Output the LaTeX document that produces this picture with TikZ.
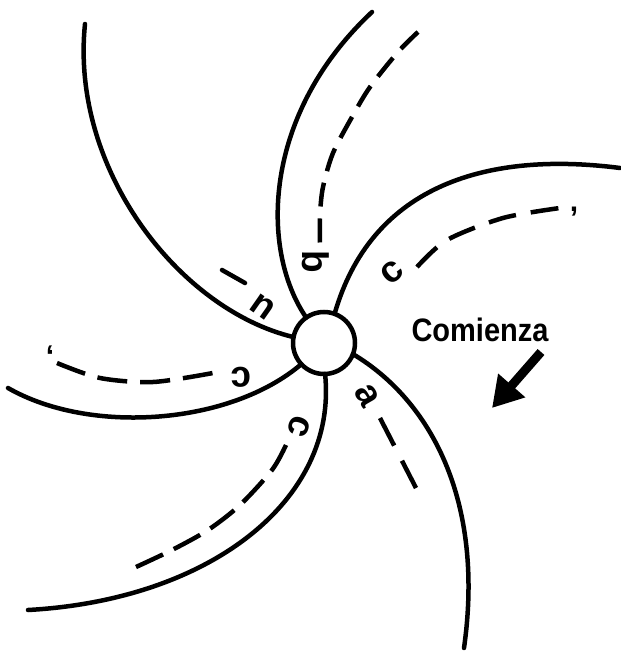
\documentclass[tikz,border=0pt]{standalone}
\usepackage{fontspec}
\setmainfont{Liberation Sans}
\usetikzlibrary{arrows.meta, positioning}

\tikzset{
  arm/.style={line width=4.5pt, line cap=round},
  guide/.style={line width=4.5pt},
  letter/.style={inner sep=0pt, font=\bfseries\fontsize{37}{37}\selectfont},
  tick/.style={inner sep=0pt, font=\bfseries\fontsize{30}{30}\selectfont},
}

\begin{document}
\begin{tikzpicture}[x=1pt, y=-1pt]
  \useasboundingbox (0,0) rectangle (620,652);

  % hub
  \node[draw, circle, line width=4.5pt, minimum size=62pt, inner sep=0pt, outer sep=0pt] (hub) at (324,343) {};

  % arms
  \draw[arm] (85,24) .. controls (70,170) and (180,310) .. (hub.169);
  \draw[arm] (372,12) .. controls (262,115) and (260,250) .. (hub.125);
  \draw[arm] (620,168) .. controls (480,150) and (370,190) .. (hub.70);
  \draw[arm] (hub.-21) .. controls (430,400) and (485,500) .. (464,648);
  \draw[arm] (hub.-88) .. controls (338,500) and (210,600) .. (28,610);
  \draw[arm] (hub.-137) .. controls (230,425) and (90,435) .. (8,388);

  % dashed guides
  \draw[guide, dash pattern=on 24pt off 12pt] plot[smooth] coordinates {(418,32) (398,52) (370,87) (352,117) (333,153) (323,187) (320,215) (320,243)};
  \draw[guide, dash pattern=on 28pt off 15pt] plot[smooth] coordinates {(417,267) (447,240) (503,218) (560,208)};
  \draw[guide, dash pattern=on 30pt off 13pt] plot[smooth] coordinates {(57,363) (100,378) (153,382) (213,373)};
  \draw[guide, dash pattern=on 30pt off 12pt] plot[smooth] coordinates {(286,445) (272,470) (240,505) (208,530) (172,550) (136,567)};
  \draw[guide, dash pattern=on 31pt off 17pt] (380,418) -- (416,488);
  \draw[arm] (222,270) -- (245,283);

  % letters
  \node[letter, rotate=145] (lu) at (263,307) {u};
  \node[letter, rotate=-90] (lb) at (316,262) {b};
  \node[letter, rotate=40] (lc1) at (392,272) {c};
  \node[letter, rotate=180] (lc2) at (241,377) {c};
  \node[letter, rotate=-110] (lc3) at (299,427) {c};
  \node[letter, rotate=-60] (la) at (367,396) {a};
  \node[tick] (t1) at (574,212) {,};
  \node[tick] (t2) at (50,356) {‘};

  % start mark
  \node[font=\bfseries\fontsize{29}{29}\selectfont, yscale=1.12] (start) at (480,330) {Comienza};
  \coordinate (tailpt) at (541,352);
  \coordinate (tippt) at (492,408);
  \draw[line width=9pt, -{Triangle[length=30pt, width=34pt]}] (tailpt) -- (tippt);
\end{tikzpicture}
\end{document}
